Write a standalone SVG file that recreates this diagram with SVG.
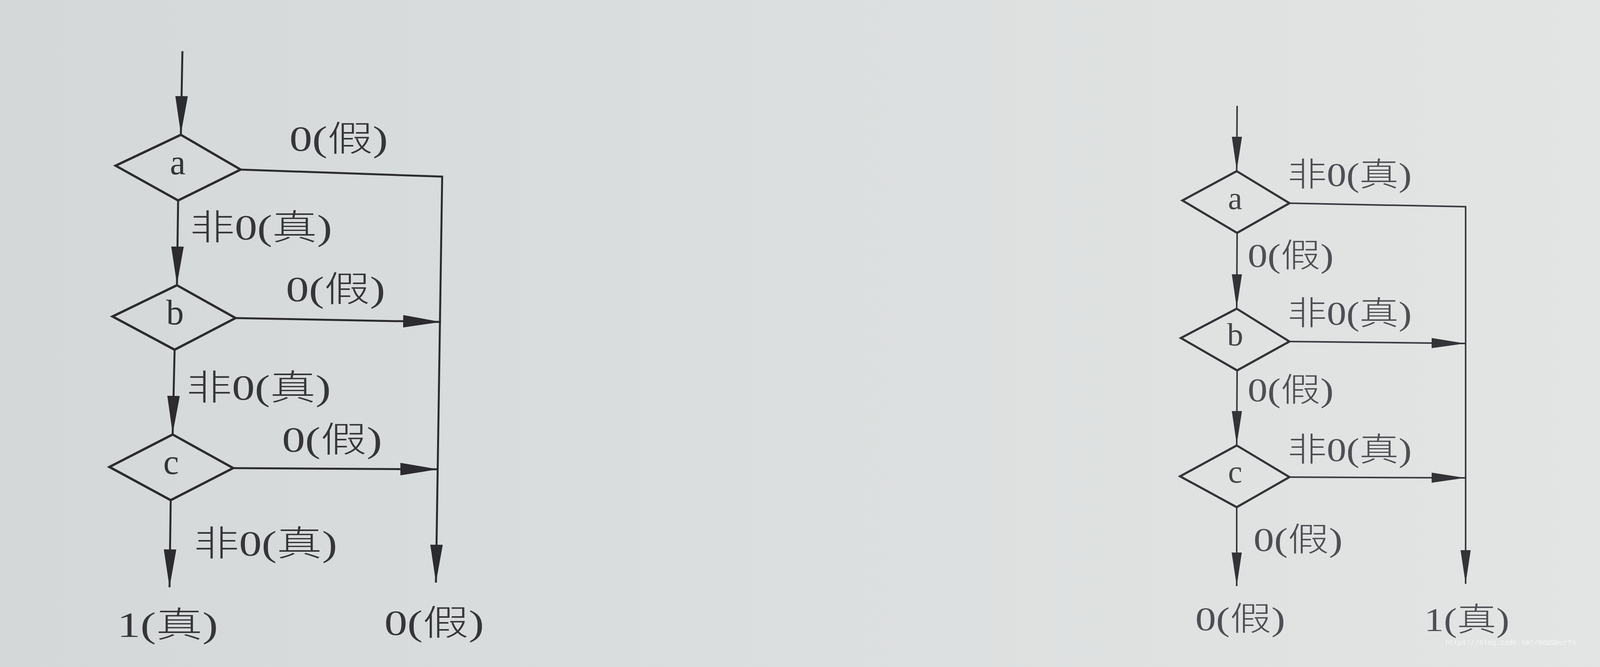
<svg xmlns="http://www.w3.org/2000/svg" width="4160" height="1707" viewBox="0 0 4160 1707">
<defs>
<linearGradient id="bg" x1="0" y1="0" x2="1" y2="0">
<stop offset="0" stop-color="#d5d8d9"/>
<stop offset="0.5" stop-color="#dcdfdf"/>
<stop offset="1" stop-color="#e3e5e4"/>
</linearGradient>
<marker id="arrL" markerUnits="userSpaceOnUse" markerWidth="100" markerHeight="36" refX="97" refY="17" orient="auto" viewBox="0 0 100 34">
<path d="M0,1 L97,17 L0,33 Z" fill="#2b2b30"/>
</marker>
<marker id="arrR" markerUnits="userSpaceOnUse" markerWidth="90" markerHeight="30" refX="86" refY="14" orient="auto" viewBox="0 0 90 28">
<path d="M0,1 L86,14 L0,27 Z" fill="#333338"/>
</marker>
<style>
.dL{fill:none;stroke:#2b2b30;stroke-width:6;stroke-linejoin:miter}
.dR{fill:none;stroke:#333338;stroke-width:5.5;stroke-linejoin:miter}
.cL{fill:none;stroke:#2b2b30;stroke-width:5}
.cR{fill:none;stroke:#3a3a40;stroke-width:4}
.tL{font-family:"Liberation Serif","Noto Sans CJK SC",serif;font-size:90px;font-weight:300;fill:#35353a}
.tR{font-family:"Liberation Serif","Noto Sans CJK SC",serif;font-size:84px;font-weight:300;fill:#4e4e54}
.vL{font-family:"Liberation Serif",serif;font-size:90px;fill:#333338;text-anchor:middle}
.vR{font-family:"Liberation Serif",serif;font-size:82px;fill:#444449;text-anchor:middle}
.wm{font-family:"Liberation Mono",monospace;font-size:18px;fill:#f6f6f6}
</style>
</defs>
<rect x="0" y="0" width="4160" height="1707" fill="url(#bg)"/>

<g id="connectors">
<!-- left diagram -->
<polyline class="cL" points="467,131 463,343" marker-end="url(#arrL)"/>
<polyline class="cL" points="616,434 1132,452 1116,1491" marker-end="url(#arrL)"/>
<polyline class="cL" points="456,513 453,728" marker-end="url(#arrL)"/>
<polyline class="cL" points="603,814 1129,824" marker-end="url(#arrL)"/>
<polyline class="cL" points="447,895 442,1110" marker-end="url(#arrL)"/>
<polyline class="cL" points="597,1198 1122,1201" marker-end="url(#arrL)"/>
<polyline class="cL" points="437,1280 434,1503" marker-end="url(#arrL)"/>
<!-- right diagram -->
<polyline class="cR" points="3167,271 3166,436" marker-end="url(#arrR)"/>
<polyline class="cR" points="3301,520 3752,529 3752,1494" marker-end="url(#arrR)"/>
<polyline class="cR" points="3167,596 3166,788" marker-end="url(#arrR)"/>
<polyline class="cR" points="3301,874 3751,879" marker-end="url(#arrR)"/>
<polyline class="cR" points="3167,948 3166,1138" marker-end="url(#arrR)"/>
<polyline class="cR" points="3301,1221 3751,1223" marker-end="url(#arrR)"/>
<polyline class="cR" points="3166,1298 3166,1500" marker-end="url(#arrR)"/>
</g>

<g id="edge-labels">
<text class="tL" x="741" y="386" textLength="252" lengthAdjust="spacingAndGlyphs">0(假)</text>
<text class="tL" x="486" y="613" textLength="364" lengthAdjust="spacingAndGlyphs">非0(真)</text>
<text class="tL" x="732" y="771" textLength="254" lengthAdjust="spacingAndGlyphs">0(假)</text>
<text class="tL" x="477" y="1023" textLength="370" lengthAdjust="spacingAndGlyphs">非0(真)</text>
<text class="tL" x="722" y="1156" textLength="256" lengthAdjust="spacingAndGlyphs">0(假)</text>
<text class="tL" x="496" y="1422" textLength="367" lengthAdjust="spacingAndGlyphs">非0(真)</text>

<text class="tR" x="3296" y="476" textLength="318" lengthAdjust="spacingAndGlyphs">非0(真)</text>
<text class="tR" x="3194" y="683" textLength="220" lengthAdjust="spacingAndGlyphs">0(假)</text>
<text class="tR" x="3296" y="831" textLength="318" lengthAdjust="spacingAndGlyphs">非0(真)</text>
<text class="tR" x="3194" y="1027" textLength="220" lengthAdjust="spacingAndGlyphs">0(假)</text>
<text class="tR" x="3296" y="1180" textLength="318" lengthAdjust="spacingAndGlyphs">非0(真)</text>
<text class="tR" x="3209" y="1410" textLength="228" lengthAdjust="spacingAndGlyphs">0(假)</text>
</g>

<g id="left-a">
<polygon class="dL" points="463,345 616,434 456,513 296,424"/>
<text class="vL" x="455" y="446">a</text>
</g>
<g id="left-b">
<polygon class="dL" points="453,730 603,814 447,895 288,810"/>
<text class="vL" x="448" y="830">b</text>
</g>
<g id="left-c">
<polygon class="dL" points="442,1112 597,1198 437,1280 280,1195"/>
<text class="vL" x="438" y="1213">c</text>
</g>
<g id="left-true">
<text class="tL" x="300" y="1630" textLength="258" lengthAdjust="spacingAndGlyphs">1(真)</text>
</g>
<g id="left-false">
<text class="tL" x="984" y="1625" textLength="255" lengthAdjust="spacingAndGlyphs">0(假)</text>
</g>

<g id="right-a">
<polygon class="dR" points="3166,438 3301,520 3167,596 3027,513"/>
<text class="vR" x="3162" y="535">a</text>
</g>
<g id="right-b">
<polygon class="dR" points="3166,790 3301,874 3167,948 3023,865"/>
<text class="vR" x="3162" y="884">b</text>
</g>
<g id="right-c">
<polygon class="dR" points="3166,1140 3301,1221 3166,1298 3021,1219"/>
<text class="vR" x="3162" y="1235">c</text>
</g>
<g id="right-false">
<text class="tR" x="3060" y="1613" textLength="230" lengthAdjust="spacingAndGlyphs">0(假)</text>
</g>
<g id="right-true">
<text class="tR" x="3646" y="1615" textLength="218" lengthAdjust="spacingAndGlyphs">1(真)</text>
</g>

<text class="wm" x="3700" y="1650">https://blog.csdn.net/OddSmurfs</text>
</svg>
